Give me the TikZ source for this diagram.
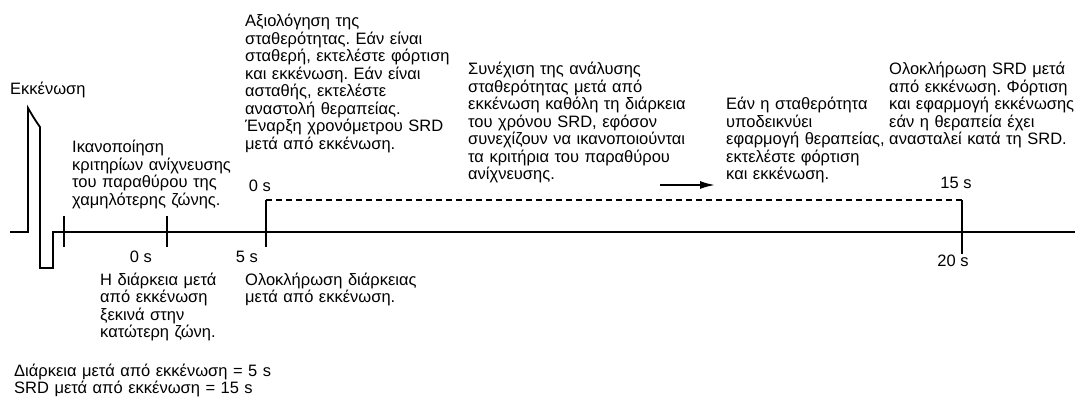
\documentclass[tikz,border=0pt]{standalone}
\usepackage{fontspec}
\setmainfont{Liberation Sans}
\frenchspacing
\usetikzlibrary{arrows.meta}
\tikzstyle{note}=[anchor=base west,inner sep=0pt,text width=260pt,align=left,font=\fontsize{16.5}{17.5}\selectfont]
\tikzstyle{secs}=[anchor=base,inner sep=0pt,font=\fontsize{16.5}{17.5}\selectfont]
\tikzstyle{wave}=[draw,line width=1.8pt]
\tikzstyle{srd}=[draw,line width=1.8pt,dash pattern=on 6pt off 4pt]

\begin{document}
\begin{tikzpicture}[x=1pt,y=-1pt]
    \useasboundingbox (0,0) rectangle (1075,398);

    % shock and time axis
    \coordinate (axisstart) at (10,232);
    \coordinate (axisend) at (1075,232);
    \draw[wave] (axisstart) -- (28,232) -- (28,108) .. controls (32,115) and (35,120) .. (40,127) -- (40,268) -- (53,268) -- (53,232) -- (axisend);

    % ticks
    \foreach \x/\ya/\yb/\name in {64/216/247/ta, 167/216/247/tb, 266/200/247/tc, 962/200/254/td}
    {
        \coordinate (\name-up) at (\x,\ya);
        \coordinate (\name-down) at (\x,\yb);
        \draw[wave] (\name-up) -- (\name-down);
    }
    \draw[srd] (tc-up) -- (td-up);

    % seconds
    \foreach \x/\y/\name/\txt in {141/262/zero/{0 s}, 247/262/five/{5 s}, 260/192/srdzero/{0 s}, 956/188/fifteen/{15 s}, 953/266/twenty/{20 s}}
        \node[secs] (\name) at (\x,\y) {\txt};

    % notes
    \node[note] (shock) at (10,95) {Εκκένωση};
    \node[note] (lowzone) at (72,153) {Ικανοποίηση\\κριτηρίων ανίχνευσης\\του παραθύρου της\\χαμηλότερης ζώνης.};
    \node[note] (stability) at (245,27) {Αξιολόγηση της\\σταθερότητας. Εάν είναι\\σταθερή, εκτελέστε φόρτιση\\και εκκένωση. Εάν είναι\\ασταθής, εκτελέστε\\αναστολή θεραπείας.\\Έναρξη χρονόμετρου SRD\\μετά από εκκένωση.};
    \node[note] (analysis) at (468,75) {Συνέχιση της ανάλυσης\\σταθερότητας μετά από\\εκκένωση καθόλη τη διάρκεια\\του χρόνου SRD, εφόσον\\συνεχίζουν να ικανοποιούνται\\τα κριτήρια του παραθύρου\\ανίχνευσης.};
    \node[note] (therapy) at (726,110) {Εάν η σταθερότητα\\υποδεικνύει\\εφαρμογή θεραπείας,\\εκτελέστε φόρτιση\\και εκκένωση.};
    \node[note] (srdend) at (889,75) {Ολοκλήρωση SRD μετά\\από εκκένωση. Φόρτιση\\και εφαρμογή εκκένωσης\\εάν η θεραπεία έχει\\ανασταλεί κατά τη SRD.};
    \node[note] (durstart) at (100,285) {Η διάρκεια μετά\\από εκκένωση\\ξεκινά στην\\κατώτερη ζώνη.};
    \node[note] (durend) at (245,285) {Ολοκλήρωση διάρκειας\\μετά από εκκένωση.};
    \node[note] (settings) at (14,376) {Διάρκεια μετά από εκκένωση = 5 s\\SRD μετά από εκκένωση = 15 s};

    % arrow
    \coordinate (arrowstart) at (660,185);
    \coordinate (arrowend) at (715,185);
    \draw[wave,-{Latex[length=15pt,width=8pt]}] (arrowstart) -- (arrowend);

\end{tikzpicture}
\end{document}
